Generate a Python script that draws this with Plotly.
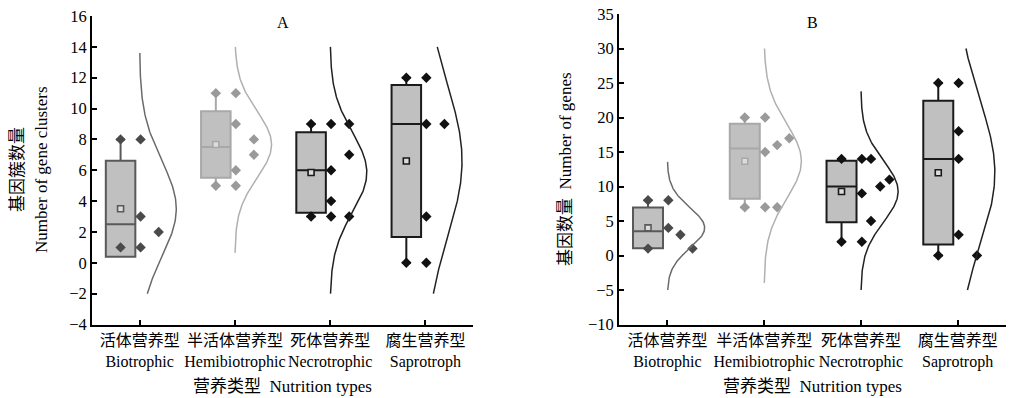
import numpy as np
import plotly.graph_objects as go

# ---------------- data ----------------
categories_cn = ["活体营养型", "半活体营养型", "死体营养型", "腐生营养型"]
categories_en = ["Biotrophic", "Hemibiotrophic", "Necrotrophic", "Saprotroph"]

# Panel A: number of gene clusters; each inner list = one column of drawn points
a_biotrophic = [[8, 3, 1], [2]]
a_hemibiotrophic = [[11, 9, 6, 5], [8, 7]]
a_necrotrophic = [[9, 6, 4, 3], [9, 7, 3]]
a_saprotroph = [[12, 9, 3, 0], [9]]

# Panel B: number of genes
b_biotrophic = [[8, 4], [3], [1]]
b_hemibiotrophic = [[20, 15, 7], [16, 7], [17]]
b_necrotrophic = [[14, 9, 2], [14, 5], [10], [11]]
b_saprotroph = [[25, 18, 14, 3], [0]]

y_ticks_a = list(range(-4, 17, 2))
y_ticks_b = list(range(-10, 36, 5))

panel_titles = ["A", "B"]
y_title_a = ["基因簇数量", "Number of gene clusters"]
y_title_b = "基因数量  Number of genes"
x_title = "营养类型  Nutrition types"

# ---------------- styles ----------------
FONT = "Liberation Serif, Noto Sans CJK SC, serif"
BOX_FILL = "#c0c0c0"
group_styles = [
    dict(edge="#595959", point="#4a4a4a", curve="#6a6a6a"),
    dict(edge="#a8a8a8", point="#9a9a9a", curve="#b0b0b0"),
    dict(edge="#1a1a1a", point="#111111", curve="#222222"),
    dict(edge="#1a1a1a", point="#111111", curve="#222222"),
]
col_offsets = {1: [0.01], 2: [0.01, 0.2], 3: [0.01, 0.135, 0.26], 4: [0.01, 0.105, 0.2, 0.295]}
BOX_SHIFT = -0.2
BOX_W = 0.31
CURVE_AMP = 0.385

fig = go.Figure()


def add_panel(groups, xa, ya, clip):
    for i, (cols, st) in enumerate(zip(groups, group_styles)):
        pos = i + 1
        vals = np.array([v for c in cols for v in c], dtype=float)
        m = vals.mean()
        sd = vals.std(ddof=1)
        med = float(np.median(vals))
        bx = pos + BOX_SHIFT
        fig.add_trace(go.Box(
            x=[bx], q1=[m - sd], median=[med], q3=[m + sd],
            lowerfence=[vals.min()], upperfence=[vals.max()],
            width=BOX_W, whiskerwidth=0.3, fillcolor=BOX_FILL,
            line=dict(color=st["edge"], width=2), boxpoints=False,
            xaxis=xa, yaxis=ya, showlegend=False, hoverinfo="skip"))
        # min / max markers
        fig.add_trace(go.Scatter(
            x=[bx, bx], y=[vals.min(), vals.max()], mode="markers",
            marker=dict(symbol="diamond", size=8, color=st["point"]),
            xaxis=xa, yaxis=ya, showlegend=False, hoverinfo="skip"))
        # mean marker
        fig.add_trace(go.Scatter(
            x=[bx], y=[m], mode="markers",
            marker=dict(symbol="square", size=6, color="#dcdcdc",
                        line=dict(color=st["edge"], width=1.6)),
            xaxis=xa, yaxis=ya, showlegend=False, hoverinfo="skip"))
        # data points
        offs = col_offsets[len(cols)]
        px, py = [], []
        for off, c in zip(offs, cols):
            px += [pos + off] * len(c)
            py += c
        fig.add_trace(go.Scatter(
            x=px, y=py, mode="markers",
            marker=dict(symbol="diamond", size=8, color=st["point"]),
            xaxis=xa, yaxis=ya, showlegend=False, hoverinfo="skip"))
        # normal distribution curve
        lo = max(clip[0], m - 3.25 * sd)
        hi = min(clip[1], m + 3.25 * sd)
        yy = np.linspace(lo, hi, 200)
        xx = pos + CURVE_AMP * np.exp(-(yy - m) ** 2 / (2 * sd ** 2))
        fig.add_trace(go.Scatter(
            x=xx, y=yy, mode="lines", line=dict(color=st["curve"], width=1.5),
            xaxis=xa, yaxis=ya, showlegend=False, hoverinfo="skip"))


add_panel([a_biotrophic, a_hemibiotrophic, a_necrotrophic, a_saprotroph], "x", "y", (-2, 14))
add_panel([b_biotrophic, b_hemibiotrophic, b_necrotrophic, b_saprotroph], "x2", "y2", (-5, 30))

W, H = 1015, 398
ticktext = [f"{c}<br>{e}" for c, e in zip(categories_cn, categories_en)]
xcommon = dict(range=[0.5, 4.5], tickvals=[1, 2, 3, 4], ticktext=ticktext,
               tickangle=0,
               ticks="inside", ticklen=5, tickwidth=2, tickcolor="black",
               showline=True, linewidth=2, linecolor="black", showgrid=False,
               zeroline=False, automargin=False,
               tickfont=dict(family=FONT, size=16, color="black"))
ycommon = dict(ticks="inside", ticklen=5, tickwidth=2, tickcolor="black",
               showline=True, linewidth=2, linecolor="black", showgrid=False,
               zeroline=False, automargin=False,
               tickfont=dict(family=FONT, size=16.5, color="black"))

ybot = 1 - 324.5 / H
fig.update_layout(
    width=W, height=H, margin=dict(l=0, r=0, t=0, b=0),
    plot_bgcolor="white", paper_bgcolor="white", showlegend=False,
    font=dict(family=FONT, color="black"),
    xaxis=dict(domain=[92 / W, 473 / W], anchor="y", **xcommon),
    xaxis2=dict(domain=[619 / W, 1006 / W], anchor="y2", **xcommon),
    yaxis=dict(domain=[ybot, 1 - 16 / H], anchor="x", range=[-4, 16],
               tickvals=y_ticks_a, **ycommon),
    yaxis2=dict(domain=[ybot, 1 - 14 / H], anchor="x2", range=[-10, 35],
                tickvals=y_ticks_b, **ycommon),
)

ann = []
for t, xc in zip(panel_titles, [282.5, 812.5]):
    ann.append(dict(text=t, x=xc / W, y=1 - 23 / H, xref="paper", yref="paper",
                    xanchor="center", yanchor="middle", showarrow=False,
                    font=dict(family=FONT, size=16, color="black")))
    ann.append(dict(text=x_title, x=xc / W, y=1 - 386 / H, xref="paper", yref="paper",
                    xanchor="center", yanchor="middle", showarrow=False,
                    font=dict(family=FONT, size=17, color="black")))
ann.append(dict(text=y_title_a[0], x=18 / W, y=1 - 170 / H, xref="paper", yref="paper",
                xanchor="center", yanchor="middle", showarrow=False, textangle=-90,
                font=dict(family=FONT, size=17, color="black")))
ann.append(dict(text=y_title_a[1], x=42 / W, y=1 - 170 / H, xref="paper", yref="paper",
                xanchor="center", yanchor="middle", showarrow=False, textangle=-90,
                font=dict(family=FONT, size=17, color="black")))
ann.append(dict(text=y_title_b, x=565 / W, y=1 - 169 / H, xref="paper", yref="paper",
                xanchor="center", yanchor="middle", showarrow=False, textangle=-90,
                font=dict(family=FONT, size=17, color="black")))
fig.update_layout(annotations=ann)

fig.write_html("out.html", config={"displayModeBar": False},
               post_script="document.body.style.margin='0';")
